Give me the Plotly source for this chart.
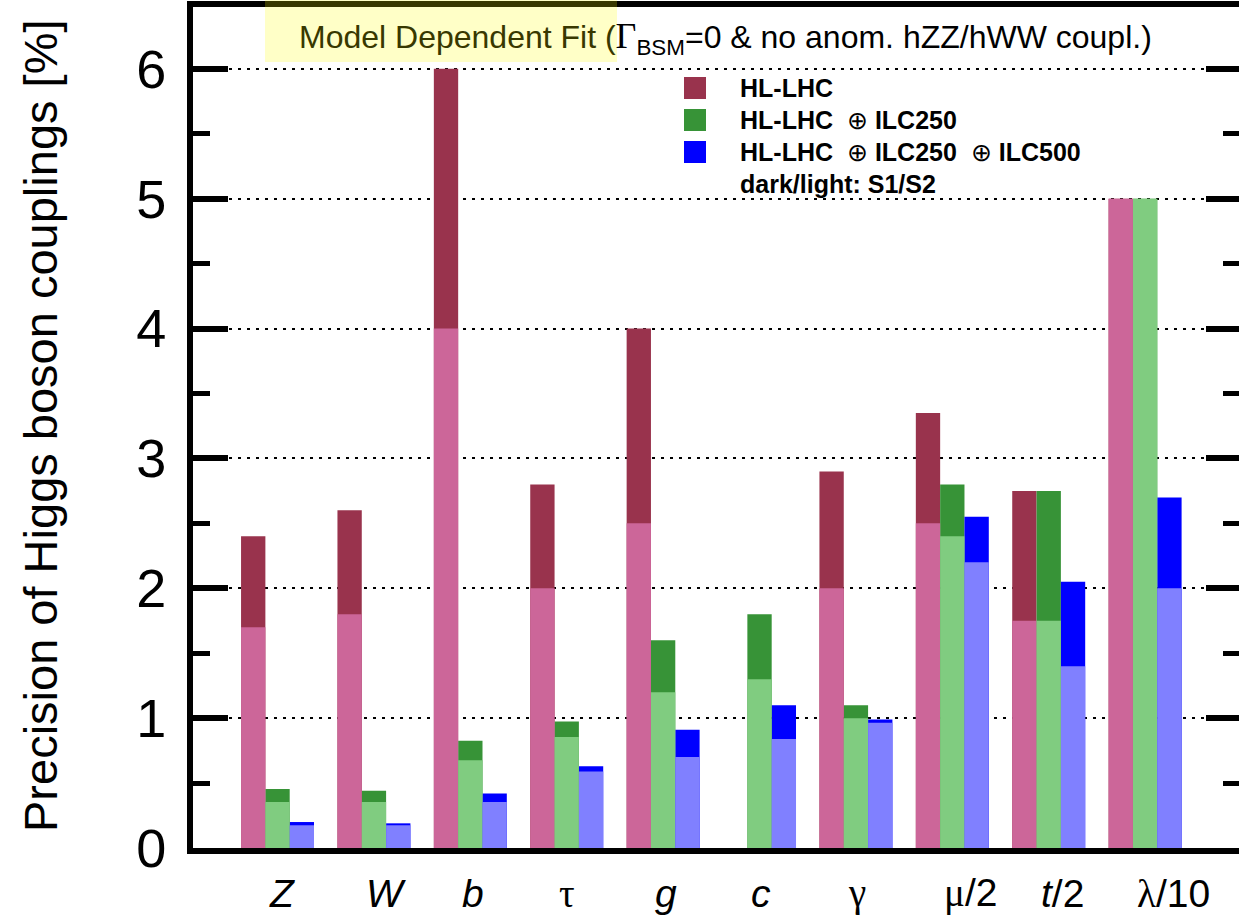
import plotly.graph_objects as go

# Higgs coupling precision [%] per coupling, for S1 (dark) and S2 (light) scenarios
categories = ["Z", "W", "b", "tau", "g", "c", "gamma", "mu/2", "t/2", "lambda/10"]
tick_labels = [
    "<i>Z</i>", "<i>W</i>", "<i>b</i>",
    "<span style='font-family:Liberation Serif'>τ</span>",
    "<i>g</i>", "<i>c</i>",
    "<span style='font-family:Liberation Serif'>γ</span>",
    "<span style='font-family:Liberation Serif'>μ</span>/2",
    "<i>t</i>/2",
    "<span style='font-family:Liberation Serif'>λ</span>/10",
]

hllhc_s1 = [2.4, 2.6, 6.0, 2.8, 4.0, None, 2.9, 3.35, 2.75, 5.0]
hllhc_s2 = [1.7, 1.8, 4.0, 2.0, 2.5, None, 2.0, 2.5, 1.75, 5.0]
ilc250_s1 = [0.455, 0.44, 0.825, 0.975, 1.6, 1.8, 1.1, 2.8, 2.75, 5.0]
ilc250_s2 = [0.355, 0.355, 0.675, 0.855, 1.2, 1.3, 1.0, 2.4, 1.75, 5.0]
ilc500_s1 = [0.2, 0.19, 0.42, 0.63, 0.91, 1.1, 0.99, 2.55, 2.05, 2.7]
ilc500_s2 = [0.175, 0.175, 0.355, 0.59, 0.70, 0.84, 0.965, 2.2, 1.4, 2.0]

legend_names = [
    "<b>HL-LHC</b>",
    "<b>HL-LHC</b>  ⊕ <b>ILC250</b>",
    "<b>HL-LHC</b>  ⊕ <b>ILC250</b>  ⊕ <b>ILC500</b>",
]

dark = {"A": "#99334d", "B": "#379337", "C": "#0000ff"}
light = {"A": "#cc6699", "B": "#80cc80", "C": "#8080ff"}

FONT = "Liberation Sans, Arial, Helvetica, sans-serif"

# plot-area geometry in pixels, used to place paper-referenced decorations
L, R, T, B = 193, 1239, 7, 848


def px_x(p):
    return (p - L) / (R - L)


def px_y(p):
    return (B - p) / (B - T)


fig = go.Figure()

series = [
    ("A", hllhc_s1, hllhc_s2),
    ("B", ilc250_s1, ilc250_s2),
    ("C", ilc500_s1, ilc500_s2),
]
# S1 first, S2 drawn on top in the same slot
for grp, s1, _ in series:
    fig.add_trace(go.Bar(x=categories, y=s1, offsetgroup=grp,
                         marker=dict(color=dark[grp], line=dict(width=0)),
                         showlegend=False))
for grp, _, s2 in series:
    fig.add_trace(go.Bar(x=categories, y=s2, offsetgroup=grp,
                         marker=dict(color=light[grp], line=dict(width=0)),
                         showlegend=False))

# invisible trace that carries the right-hand tick axis
fig.add_trace(go.Scatter(x=[categories[0]], y=[None], yaxis="y2",
                         showlegend=False, hoverinfo="skip"))

ymax = (B - T) / 129.86

fig.update_layout(
    width=1239, height=916,
    margin=dict(l=L, r=1239 - R, t=T, b=916 - B, pad=0),
    paper_bgcolor="white", plot_bgcolor="white",
    barmode="group", bargap=0.243, bargroupgap=0,
    showlegend=False,
    font=dict(family=FONT, color="black"),
    xaxis=dict(
        range=[-0.877, 9.974], showline=True, linewidth=6, linecolor="black",
        mirror=True, ticks="", showticklabels=False, showgrid=False,
        zeroline=False,
    ),
    yaxis=dict(
        range=[0, ymax], showline=True, linewidth=6, linecolor="black",
        ticks="inside", ticklen=35, tickwidth=6, tickcolor="black",
        tick0=0, dtick=1,
        tickfont=dict(size=54, family=FONT, color="black"),
        ticklabelstandoff=10,
        minor=dict(ticks="inside", ticklen=17, tickwidth=5, tickcolor="black",
                   dtick=0.5, tick0=0, showgrid=False),
        showgrid=True, gridcolor="black", gridwidth=2, griddash="3px,6px",
        zeroline=False,
    ),
    yaxis2=dict(
        range=[0, ymax], overlaying="y", side="right", anchor="x",
        showline=False, ticks="inside", ticklen=33, tickwidth=6,
        tickcolor="black", tick0=0, dtick=1, showticklabels=False,
        minor=dict(ticks="inside", ticklen=16, tickwidth=5, tickcolor="black",
                   dtick=0.5, tick0=0, showgrid=False),
        showgrid=False, zeroline=False,
    ),
)

annotations = []

# category labels under the groups
for i, lab in enumerate(tick_labels):
    annotations.append(dict(
        x=i - 0.105, xref="x", xanchor="left",
        y=px_y(893), yref="paper", yanchor="middle",
        text=lab, showarrow=False,
        font=dict(size=39, family=FONT, color="black"),
    ))

# vertical axis title
annotations.append(dict(
    x=px_x(40), xref="paper", xanchor="center",
    y=px_y(426), yref="paper", yanchor="middle",
    text="Precision of Higgs boson couplings [%]", textangle=-90,
    showarrow=False, font=dict(size=47, family=FONT, color="black"),
))

# fit description in the top band
annotations.append(dict(
    x=px_x(297), xref="paper", xanchor="left",
    y=px_y(38), yref="paper", yanchor="middle",
    text=("<span style='color:#383800'>Model Dependent Fit (</span>"
          "<span style='font-family:Liberation Serif;font-size:36px'>Γ</span>"
          "<sub>BSM</sub>=0 &amp; no anom. hZZ/hWW coupl.)"),
    showarrow=False, font=dict(size=32, family=FONT, color="black"),
))

# legend rows
legend_rows_y = [88, 120, 152]
for name, yc in zip(legend_names, legend_rows_y):
    annotations.append(dict(
        x=px_x(738), xref="paper", xanchor="left",
        y=px_y(yc), yref="paper", yanchor="middle",
        text=name, showarrow=False,
        font=dict(size=25, family=FONT, color="black"),
    ))
annotations.append(dict(
    x=px_x(738), xref="paper", xanchor="left",
    y=px_y(184), yref="paper", yanchor="middle",
    text="<b>dark/light: S1/S2</b>", showarrow=False,
    font=dict(size=25, family=FONT, color="black"),
))

shapes = []
for grp, yc in zip(["A", "B", "C"], legend_rows_y):
    shapes.append(dict(
        type="rect", xref="paper", yref="paper",
        x0=px_x(684), x1=px_x(706), y0=px_y(yc - 11), y1=px_y(yc + 11),
        fillcolor=dark[grp], line=dict(width=0), layer="above",
    ))

# translucent highlight over the start of the header
shapes.append(dict(
    type="rect", xref="paper", yref="paper",
    x0=px_x(265), x1=px_x(617), y0=px_y(-2), y1=px_y(62),
    fillcolor="rgba(255,255,0,0.22)", line=dict(width=0), layer="above",
))

fig.update_layout(annotations=annotations, shapes=shapes)

fig.write_html("out.html")
